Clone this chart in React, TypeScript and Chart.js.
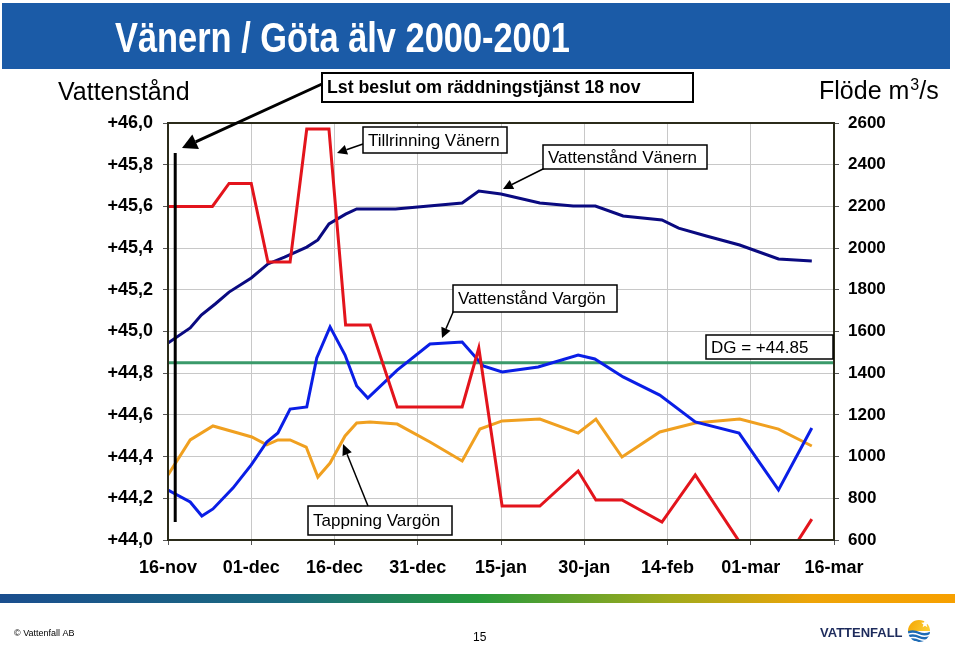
import React, { useEffect, useRef } from "react";
import { Chart, registerables } from "chart.js";
Chart.register(...registerables);

const xTickLabels = ["16-nov", "01-dec", "16-dec", "31-dec", "15-jan", "30-jan", "14-feb", "01-mar", "16-mar"];

// Vattenstånd Vänern (left axis, m)
const vanernDays = [0, 4, 6, 8.5, 11, 15, 18, 21, 25, 27, 29, 32, 34, 41, 47, 53, 56, 60, 67, 73, 77, 82, 89, 92, 97, 103, 110, 116];
const vanernLevel = [44.945, 45.017, 45.079, 45.132, 45.189, 45.257, 45.324, 45.357, 45.405, 45.439, 45.516, 45.563, 45.588, 45.588, 45.602, 45.616, 45.674, 45.659, 45.616, 45.602, 45.602, 45.554, 45.535, 45.496, 45.458, 45.415, 45.348, 45.338];

// Tillrinning Vänern (right axis, m3/s)
const inflowDays = [0, 8, 11, 15, 18, 22, 25, 29, 32, 36.4, 41.3, 53, 56, 60.2, 67, 73.9, 77.1, 81.8, 89, 95, 103, 110, 116];
const inflowFlow = [2200, 2200, 2310, 2310, 1933, 1933, 2571, 2571, 1631, 1631, 1238, 1238, 1521, 763, 763, 931, 792, 792, 686, 912, 590, 450, 700];

// Vattenstånd Vargön (left axis, m)
const vargonDays = [0, 4, 6.1, 8.1, 11.7, 15, 17.8, 19.8, 22, 25, 26.8, 29.2, 31.9, 34, 36, 41.3, 47.2, 53, 56.8, 60.2, 66.7, 73.9, 76.9, 82, 88.6, 95, 102.9, 110, 116];
const vargonLevel = [44.24, 44.182, 44.115, 44.149, 44.249, 44.36, 44.47, 44.513, 44.628, 44.638, 44.873, 45.022, 44.887, 44.739, 44.681, 44.815, 44.94, 44.95, 44.835, 44.806, 44.83, 44.887, 44.868, 44.782, 44.695, 44.566, 44.513, 44.24, 44.537];

// Tappning Vargön (right axis, m3/s)
const outflowDays = [0, 4, 8.1, 12.6, 15.1, 17.8, 19.8, 22, 24.9, 27, 29.2, 31.9, 34, 36.4, 41.3, 47.2, 53, 56.2, 60.2, 67, 73.9, 77.1, 81.8, 88.6, 95, 103, 110, 116];
const outflowFlow = [912, 1080, 1147, 1113, 1094, 1056, 1080, 1080, 1046, 902, 969, 1099, 1161, 1166, 1156, 1070, 979, 1132, 1171, 1180, 1113, 1180, 998, 1118, 1161, 1180, 1132, 1051];

// DG = +44.85
const dgDays = [0, 120];
const dgLevel = [44.85, 44.85];

// Lst beslut 18 nov (vertical marker)
const decisionDays = [1.3, 1.3];
const decisionLevel = [45.856, 44.086];

const FONT = '"Liberation Sans", Arial, sans-serif';

function pts(xs: number[], ys: number[]) {
  return xs.map((x, i) => ({ x, y: ys[i] }));
}

function arrow(ctx: CanvasRenderingContext2D, x1: number, y1: number, x2: number, y2: number, w: number, head: number, hw: number) {
  const a = Math.atan2(y2 - y1, x2 - x1);
  const bx = x2 - Math.cos(a) * head;
  const by = y2 - Math.sin(a) * head;
  ctx.save();
  ctx.strokeStyle = "#000";
  ctx.fillStyle = "#000";
  ctx.lineWidth = w;
  ctx.beginPath();
  ctx.moveTo(x1, y1);
  ctx.lineTo(bx, by);
  ctx.stroke();
  ctx.beginPath();
  ctx.moveTo(x2, y2);
  ctx.lineTo(bx + Math.sin(a) * hw, by - Math.cos(a) * hw);
  ctx.lineTo(bx - Math.sin(a) * hw, by + Math.cos(a) * hw);
  ctx.closePath();
  ctx.fill();
  ctx.restore();
}

function box(ctx: CanvasRenderingContext2D, x: number, y: number, w: number, h: number, text: string, font: string, lw: number) {
  ctx.save();
  ctx.fillStyle = "#fff";
  ctx.fillRect(x, y, w, h);
  ctx.strokeStyle = "#000";
  ctx.lineWidth = lw;
  ctx.strokeRect(x, y, w, h);
  ctx.fillStyle = "#000";
  ctx.font = font;
  ctx.textAlign = "left";
  ctx.textBaseline = "middle";
  ctx.fillText(text, x + 5, y + h / 2 + 1);
  ctx.restore();
}

const slidePlugin = {
  id: "slide",
  beforeDraw(chart: any) {
    const ctx: CanvasRenderingContext2D = chart.ctx;
    ctx.save();
    ctx.fillStyle = "#fff";
    ctx.fillRect(0, 0, chart.width, chart.height);
    // banner
    ctx.fillStyle = "#1b5ba7";
    ctx.fillRect(2, 3, 948, 66);
    // title
    ctx.fillStyle = "#fff";
    ctx.font = `bold 42px ${FONT}`;
    ctx.textBaseline = "alphabetic";
    const title = "Vänern / Göta älv 2000-2001";
    const tw = ctx.measureText(title).width;
    ctx.save();
    ctx.translate(115, 52);
    ctx.scale(455 / tw, 1);
    ctx.fillText(title, 0, 0);
    ctx.restore();
    // footer gradient
    const g = ctx.createLinearGradient(0, 0, 955, 0);
    g.addColorStop(0, "#1a4e8e");
    g.addColorStop(0.3, "#1b6a80");
    g.addColorStop(0.5, "#279a3c");
    g.addColorStop(0.7, "#a0aa1c");
    g.addColorStop(0.85, "#eea408");
    g.addColorStop(1, "#f7a000");
    ctx.fillStyle = g;
    ctx.fillRect(0, 594, 955, 9);
    // footer texts
    ctx.fillStyle = "#000";
    ctx.font = `9px ${FONT}`;
    ctx.fillText("© Vattenfall AB", 14, 636);
    ctx.font = `12px ${FONT}`;
    ctx.fillText("15", 473, 641);
    ctx.fillStyle = "#1d2b5c";
    ctx.font = `bold 13px ${FONT}`;
    ctx.fillText("VATTENFALL", 820, 637);
    // logo icon
    ctx.save();
    ctx.beginPath();
    ctx.arc(919, 631, 11, 0, Math.PI * 2);
    ctx.clip();
    const sg = ctx.createLinearGradient(908, 620, 930, 632);
    sg.addColorStop(0, "#f5a400");
    sg.addColorStop(1, "#fcd23a");
    ctx.fillStyle = sg;
    ctx.fillRect(906, 618, 26, 13);
    ctx.fillStyle = "#fff";
    ctx.fillRect(906, 631, 26, 14);
    ctx.strokeStyle = "#1d6bb5";
    ctx.lineWidth = 2.4;
    for (let i = 0; i < 3; i++) {
      ctx.beginPath();
      const yy = 632 + i * 4;
      ctx.moveTo(906, yy + 1);
      ctx.quadraticCurveTo(913, yy - 2, 919, yy + 1);
      ctx.quadraticCurveTo(925, yy + 4, 932, yy);
      ctx.stroke();
    }
    ctx.restore();
    ctx.fillStyle = "#fff";
    ctx.beginPath();
    const cx = 925, cy = 624;
    for (let i = 0; i < 10; i++) {
      const r = i % 2 === 0 ? 4 : 1.7;
      const an = -Math.PI / 2 + (i * Math.PI) / 5;
      const px = cx + Math.cos(an) * r, py = cy + Math.sin(an) * r;
      if (i === 0) ctx.moveTo(px, py); else ctx.lineTo(px, py);
    }
    ctx.closePath();
    ctx.fill();
    // axis titles
    ctx.fillStyle = "#000";
    ctx.font = `25px ${FONT}`;
    ctx.fillText("Vattenstånd", 58, 100);
    let x = 819;
    ctx.fillText("Flöde m", x, 99);
    x += ctx.measureText("Flöde m").width;
    ctx.font = `16px ${FONT}`;
    ctx.fillText("3", x + 1, 90);
    x += ctx.measureText("3").width + 1;
    ctx.font = `25px ${FONT}`;
    ctx.fillText("/s", x, 99);
    ctx.restore();
  },
  afterDraw(chart: any) {
    const ctx: CanvasRenderingContext2D = chart.ctx;
    const a = chart.chartArea;
    ctx.save();
    ctx.strokeStyle = "#2b2b1a";
    ctx.lineWidth = 2;
    ctx.strokeRect(a.left, a.top, a.right - a.left, a.bottom - a.top);
    ctx.restore();
    // annotations
    arrow(ctx, 322, 84, 182, 148, 3, 15, 8);
    box(ctx, 322, 73, 371, 29, "Lst beslut om räddningstjänst 18 nov", `bold 17.7px ${FONT}`, 2);
    arrow(ctx, 363, 144, 337, 153, 1.5, 10, 5);
    box(ctx, 363, 127, 144, 26, "Tillrinning Vänern", `17px ${FONT}`, 1.5);
    arrow(ctx, 545, 168, 503, 189, 1.5, 10, 5);
    box(ctx, 543, 145, 164, 24, "Vattenstånd Vänern", `17px ${FONT}`, 1.5);
    arrow(ctx, 454, 310, 442, 338, 1.5, 10, 5);
    box(ctx, 453, 285, 164, 27, "Vattenstånd Vargön", `17px ${FONT}`, 1.5);
    box(ctx, 706, 335, 127, 24, "DG = +44.85", `17px ${FONT}`, 1.5);
    arrow(ctx, 368, 506, 343, 444, 1.5, 11, 5);
    box(ctx, 308, 506, 144, 29, "Tappning Vargön", `17px ${FONT}`, 1.5);
  },
};

export default function App() {
  const ref = useRef<HTMLCanvasElement | null>(null);
  useEffect(() => {
    if (!ref.current) return;
    const tickFont = { family: FONT, size: 18, weight: "bold" as const };
    const chart = new Chart(ref.current, {
      type: "line",
      data: {
        datasets: [
          { label: "Lst beslut", data: pts(decisionDays, decisionLevel), borderColor: "#000", borderWidth: 3, yAxisID: "y" },
          { label: "Tillrinning Vänern", data: pts(inflowDays, inflowFlow), borderColor: "#e3141c", yAxisID: "y2" },
          { label: "Vattenstånd Vargön", data: pts(vargonDays, vargonLevel), borderColor: "#0a1ee6", yAxisID: "y" },
          { label: "Vattenstånd Vänern", data: pts(vanernDays, vanernLevel), borderColor: "#0a0a80", yAxisID: "y" },
          { label: "DG", data: pts(dgDays, dgLevel), borderColor: "#3a9a6a", yAxisID: "y" },
          { label: "Tappning Vargön", data: pts(outflowDays, outflowFlow), borderColor: "#f0a020", yAxisID: "y2" },
        ],
      },
      options: {
        responsive: false,
        animation: false,
        devicePixelRatio: 1,
        layout: { padding: { top: 123, left: 0, right: 0, bottom: 0 } },
        plugins: { legend: { display: false }, tooltip: { enabled: false } },
        elements: { point: { radius: 0 }, line: { tension: 0, borderWidth: 3, fill: false } },
        scales: {
          x: {
            type: "linear",
            min: 0,
            max: 120,
            ticks: {
              stepSize: 15,
              autoSkip: false,
              maxRotation: 0,
              padding: 12,
              color: "#000",
              font: tickFont,
              callback: (v: any) => xTickLabels[Math.round(Number(v) / 15)],
            },
            grid: { color: "#c8c8c8", lineWidth: 1, tickLength: 5, tickColor: "#555" },
            border: { display: false },
            afterFit: (s: any) => { s.height = 109; },
          },
          y: {
            position: "left",
            min: 44,
            max: 46,
            ticks: {
              stepSize: 0.2,
              padding: 10,
              color: "#000",
              font: tickFont,
              callback: (v: any) => "+" + Number(v).toFixed(1).replace(".", ","),
            },
            grid: { color: "#c8c8c8", lineWidth: 1, tickLength: 5, tickColor: "#555" },
            border: { display: false },
            afterFit: (s: any) => { s.width = 168; },
          },
          y2: {
            position: "right",
            min: 600,
            max: 2600,
            ticks: {
              stepSize: 200,
              padding: 9,
              color: "#000",
              font: { family: FONT, size: 17, weight: "bold" as const },
              callback: (v: any) => String(Math.round(Number(v))),
            },
            grid: { drawOnChartArea: false, tickLength: 5, tickColor: "#555" },
            border: { display: false },
            afterFit: (s: any) => { s.width = 126; },
          },
        },
      },
      plugins: [slidePlugin],
    });
    return () => chart.destroy();
  }, []);
  return (
    <div style={{ position: "absolute", left: 0, top: 0, width: 960, height: 649 }}>
      <canvas ref={ref} width={960} height={649} style={{ display: "block", width: 960, height: 649 }} />
    </div>
  );
}
